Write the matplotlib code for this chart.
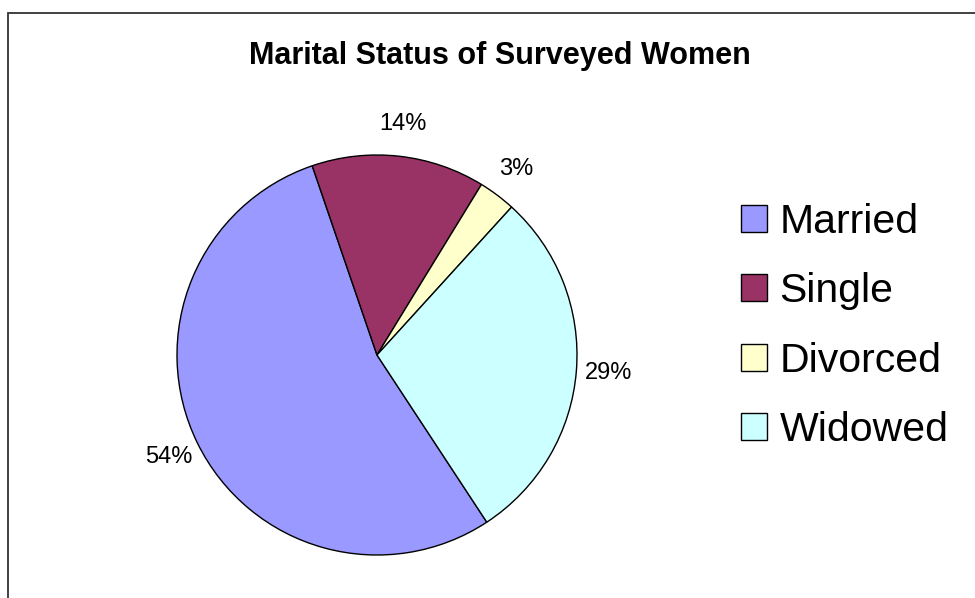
import matplotlib.pyplot as plt
from matplotlib.patches import Rectangle, Patch

plt.rcParams['font.family'] = ['Liberation Sans', 'DejaVu Sans']

labels = ['Married', 'Single', 'Divorced', 'Widowed']
values = [54, 14, 3, 29]
colors = ['#9999FF', '#993366', '#FFFFCC', '#CCFFFF']

W, H = 975, 598
fig = plt.figure(figsize=(W / 100, H / 100), dpi=100)
ax = fig.add_axes([0, 0, 1, 1])

# pie centred at pixel (377, 355), radius 200 px
ax.pie(values, colors=colors, startangle=-56.7, counterclock=False,
       center=(377, H - 355), radius=200, frame=True,
       autopct=lambda p: f'{p:.0f}%', pctdistance=1.16,
       wedgeprops=dict(edgecolor='black', linewidth=1.0),
       textprops=dict(fontsize=17, color='black'))

ax.set_xlim(0, W)
ax.set_ylim(0, H)
ax.set_aspect('equal')
ax.axis('off')

# outer chart border (cut off on the right and bottom)
ax.add_patch(Rectangle((8, -20), 1100, H - 13 + 20, fill=False,
                       edgecolor='#333333', linewidth=1.3, clip_on=False))

ax.text(500, H - 56, 'Marital Status of Surveyed Women', ha='center', va='center',
        fontsize=22, fontweight='bold')

handles = [Patch(facecolor=c, edgecolor='black', linewidth=1.0) for c in colors]
fig.legend(handles, labels, loc='center left',
           bbox_to_anchor=(741 / W, 1 - 326 / H),
           frameon=False, fontsize=29.5, borderpad=0, borderaxespad=0,
           handlelength=0.64, handleheight=0.64, handletextpad=0.3,
           labelspacing=0.77)

fig.savefig('out.png', dpi=100)
